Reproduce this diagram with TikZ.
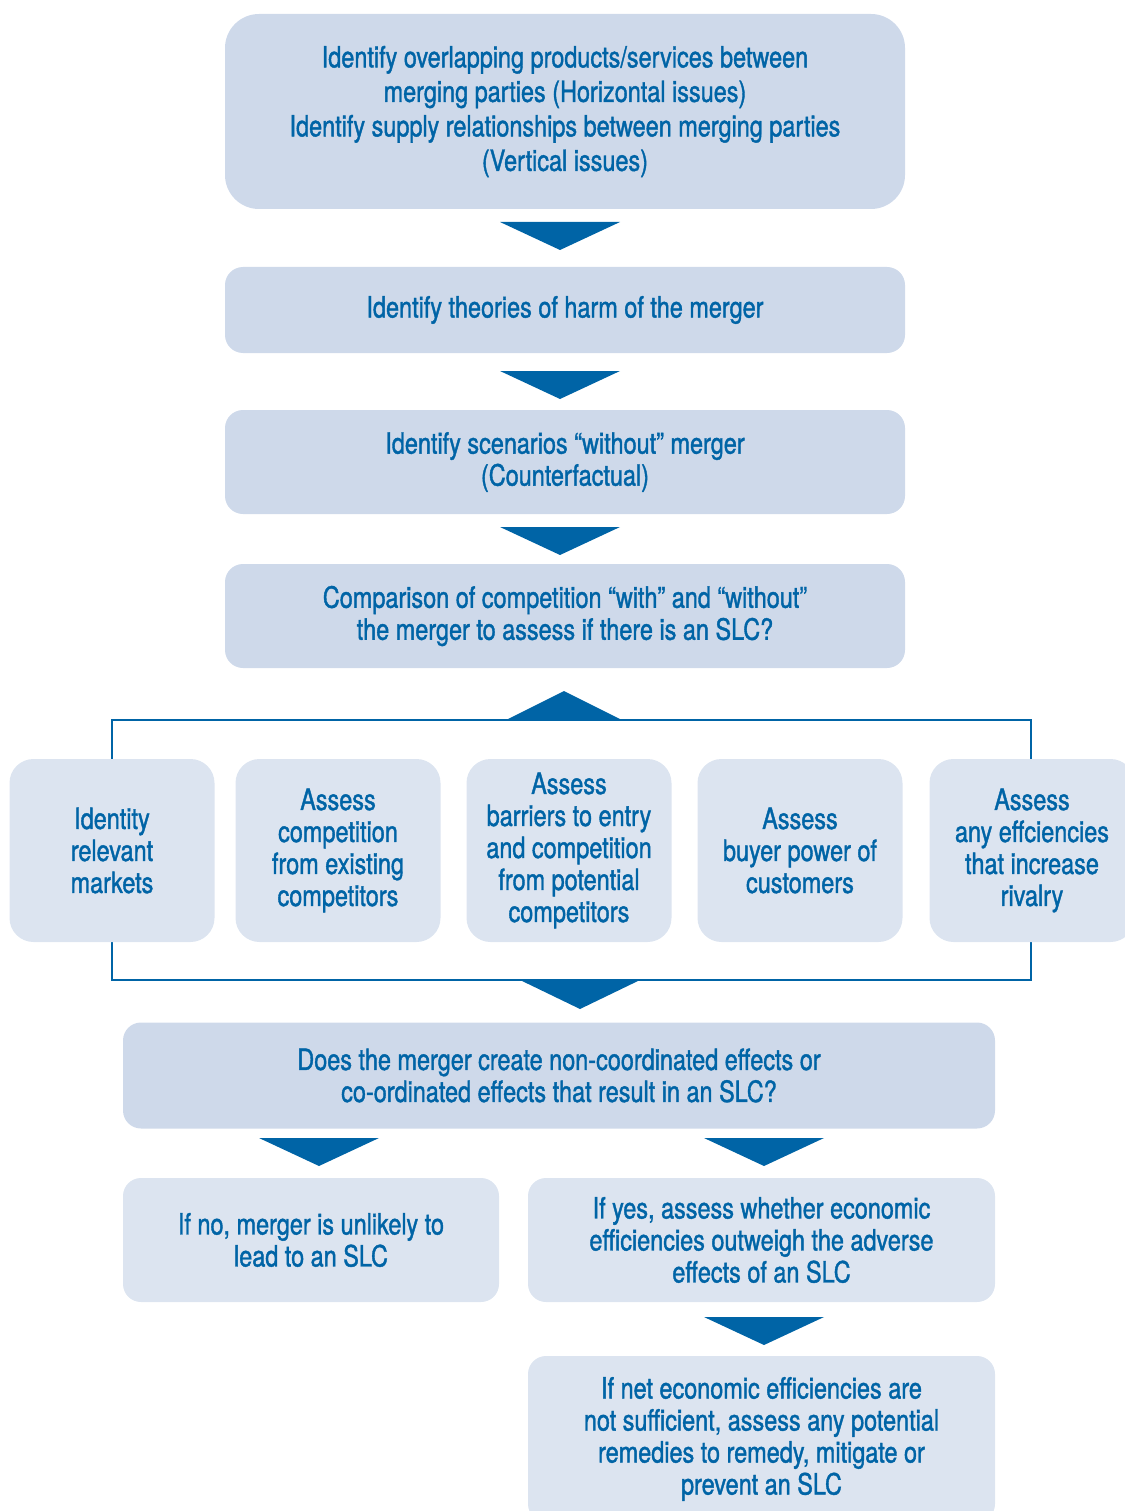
\documentclass[tikz,border=0pt]{standalone}
\usepackage{fontspec}
\setmainfont{TeX Gyre Heros}[FakeStretch=0.8, FakeBold=1.3]
\usetikzlibrary{positioning,calc}
\definecolor{mergeblue}{HTML}{0064A6}
\definecolor{boxdark}{HTML}{CED9EA}
\definecolor{boxlight}{HTML}{DCE4F0}
\begin{document}
\begin{tikzpicture}[x=1pt, y=-1pt,
  box/.style={fill=boxdark, rounded corners=18pt, inner sep=0pt, align=center,
    text=mergeblue, font=\fontsize{29.3}{32}\selectfont},
  lightbox/.style={box, fill=boxlight},
  tri/.style={fill=mergeblue},
  bracket/.style={draw=mergeblue, line width=2pt}]
\useasboundingbox (0,0) rectangle (1124,1511);
% steps of the assessment
\node (top)[box, rounded corners=34pt, minimum width=680pt, minimum height=195pt, font=\fontsize{29.3}{34.5}\selectfont] at (565,111.5)
  {Identify overlapping products/services between\\ merging parties (Horizontal issues)\\ Identify supply relationships between merging parties\\ (Vertical issues)};
\node (harm)[box, minimum width=680pt, minimum height=86pt] at (565,310) {Identify theories of harm of the merger};
\node (without)[box, minimum width=680pt, minimum height=104pt] at (565,462) {Identify scenarios “without” merger\\ (Counterfactual)};
\node (compare)[box, minimum width=680pt, minimum height=104pt] at (565,616) {Comparison of competition “with” and “without”\\ the merger to assess if there is an SLC?};
\fill[tri] (500,222) -- (620,222) -- (560,250) -- cycle;
\fill[tri] (500,371) -- (620,371) -- (560,399) -- cycle;
\fill[tri] (500,527) -- (620,527) -- (560,555) -- cycle;
% bracket round the five assessments
\draw[bracket] (112,720) rectangle (1031,980);
\fill[tri] (506,720) -- (622,720) -- (564,691) -- cycle;
\fill[tri] (520,980) -- (640,980) -- (580,1009) -- cycle;
\node (m1)[lightbox, rounded corners=24pt, minimum width=205pt, minimum height=183pt] at (112,850.5) {Identity\\ relevant\\ markets};
\node (m2)[lightbox, rounded corners=24pt, minimum width=205pt, minimum height=183pt] at (338,850.5) {Assess\\ competition\\ from existing\\ competitors};
\node (m3)[lightbox, rounded corners=24pt, minimum width=205pt, minimum height=183pt] at (569,850.5) {Assess\\ barriers to entry\\ and competition\\ from potential\\ competitors};
\node (m4)[lightbox, rounded corners=24pt, minimum width=205pt, minimum height=183pt] at (800,850.5) {Assess\\ buyer power of\\ customers};
\node (m5)[lightbox, rounded corners=24pt, minimum width=205pt, minimum height=183pt] at (1032,850.5) {Assess\\ any effciencies\\ that increase\\ rivalry};
% outcome
\node (slc)[box, minimum width=872pt, minimum height=106pt] at (559,1075.5) {Does the merger create non-coordinated effects or\\ co-ordinated effects that result in an SLC?};
\fill[tri] (259,1138) -- (379,1138) -- (319,1166) -- cycle;
\fill[tri] (704,1138) -- (824,1138) -- (764,1166) -- cycle;
\node (no)[lightbox, minimum width=376pt, minimum height=124pt] at (311,1240) {If no, merger is unlikely to\\ lead to an SLC};
\node (yes)[lightbox, minimum width=467pt, minimum height=124pt] at (761.5,1240) {If yes, assess whether economic\\ efficiencies outweigh the adverse\\ effects of an SLC};
\fill[tri] (704,1317) -- (824,1317) -- (764,1345) -- cycle;
\node (remedy)[lightbox, minimum width=467pt, minimum height=166pt] at (761.5,1439) {If net economic efficiencies are\\ not sufficient, assess any potential\\ remedies to remedy, mitigate or\\ prevent an SLC};
\end{tikzpicture}
\end{document}
